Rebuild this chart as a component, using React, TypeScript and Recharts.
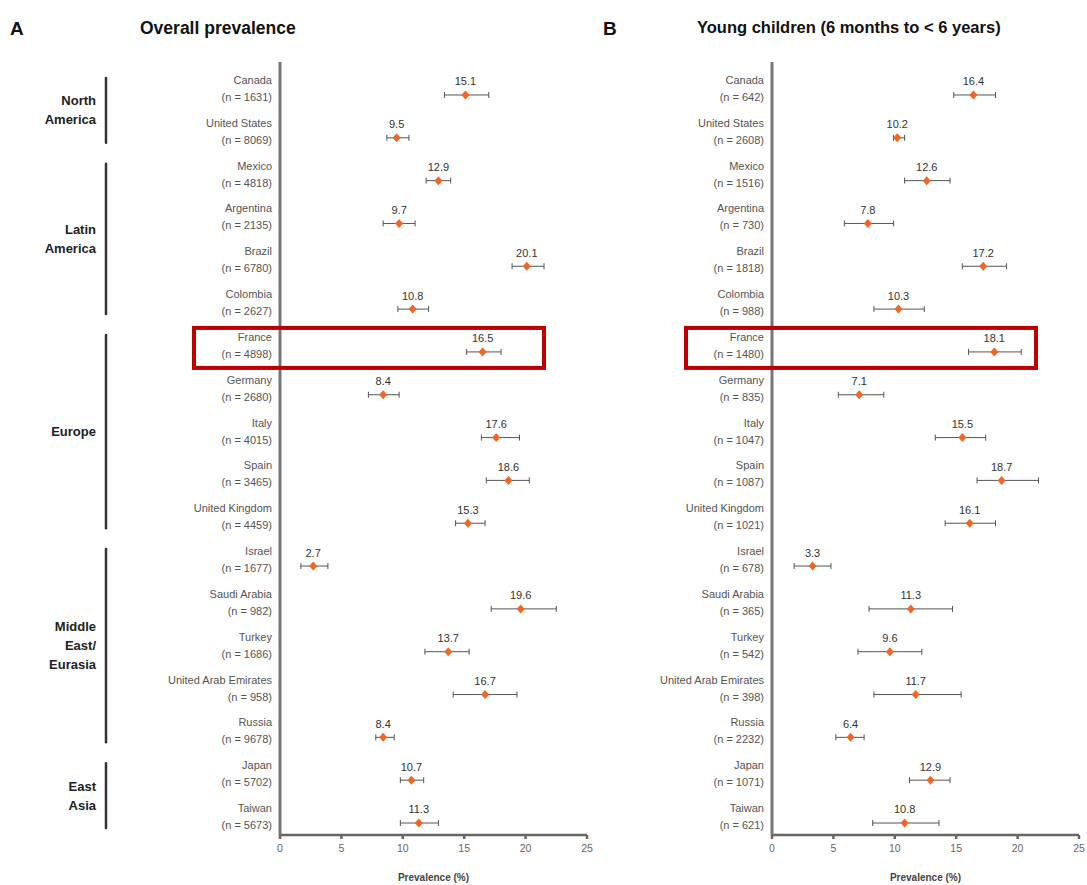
import React from 'react';
import {
  ScatterChart,
  Scatter,
  XAxis,
  YAxis,
  ErrorBar,
  LabelList,
} from 'recharts';

// rows, top to bottom
const countries = [
  'Canada', 'United States', 'Mexico', 'Argentina', 'Brazil', 'Colombia',
  'France', 'Germany', 'Italy', 'Spain', 'United Kingdom', 'Israel',
  'Saudi Arabia', 'Turkey', 'United Arab Emirates', 'Russia', 'Japan', 'Taiwan',
];

const regions = [
  { lines: ['North', 'America'], from: 0, to: 1 },
  { lines: ['Latin', 'America'], from: 2, to: 5 },
  { lines: ['Europe'], from: 6, to: 10 },
  { lines: ['Middle', 'East/', 'Eurasia'], from: 11, to: 15 },
  { lines: ['East', 'Asia'], from: 16, to: 17 },
];

const highlightRow = 6; // France

// Panel A – overall prevalence
const overallN = [1631, 8069, 4818, 2135, 6780, 2627, 4898, 2680, 4015, 3465, 4459, 1677, 982, 1686, 958, 9678, 5702, 5673];
const overallValue = [15.1, 9.5, 12.9, 9.7, 20.1, 10.8, 16.5, 8.4, 17.6, 18.6, 15.3, 2.7, 19.6, 13.7, 16.7, 8.4, 10.7, 11.3];
const overallLow = [13.4, 8.7, 11.9, 8.4, 18.9, 9.6, 15.2, 7.2, 16.4, 16.8, 14.3, 1.7, 17.2, 11.8, 14.1, 7.8, 9.8, 9.8];
const overallHigh = [17.0, 10.5, 13.9, 11.0, 21.5, 12.1, 18.0, 9.7, 19.5, 20.3, 16.7, 3.9, 22.5, 15.4, 19.3, 9.3, 11.7, 12.9];

// Panel B – young children
const childN = [642, 2608, 1516, 730, 1818, 988, 1480, 835, 1047, 1087, 1021, 678, 365, 542, 398, 2232, 1071, 621];
const childValue = [16.4, 10.2, 12.6, 7.8, 17.2, 10.3, 18.1, 7.1, 15.5, 18.7, 16.1, 3.3, 11.3, 9.6, 11.7, 6.4, 12.9, 10.8];
const childLow = [14.8, 9.9, 10.8, 5.9, 15.5, 8.3, 16.0, 5.4, 13.3, 16.7, 14.1, 1.8, 7.9, 7.0, 8.3, 5.2, 11.2, 8.2];
const childHigh = [18.2, 10.8, 14.5, 9.9, 19.1, 12.4, 20.3, 9.1, 17.4, 21.7, 18.2, 4.8, 14.7, 12.2, 15.4, 7.5, 14.5, 13.6];

const xTicks = [0, 5, 10, 15, 20, 25];

const FONT = '"Liberation Sans", Arial, Helvetica, sans-serif';
const CHART_H = 885;
const MARGIN_TOP = 62;
const X_AXIS_H = 50;
const Y_MIN = -0.77;
const Y_MAX = 17.28;
const ROW_STEP = (CHART_H - MARGIN_TOP - X_AXIS_H) / (Y_MAX - Y_MIN);

const buildRows = (values: number[], lows: number[], highs: number[], ns: number[]) =>
  countries.map((name, i) => ({
    idx: i,
    name,
    n: ns[i],
    value: values[i],
    err: [values[i] - lows[i], highs[i] - values[i]],
  }));

// small orange diamond marker
const Marker = ({ cx, cy }: any) => (
  <path
    d={`M${cx},${cy - 4.5} L${cx + 4},${cy} L${cx},${cy + 4.5} L${cx - 4},${cy} Z`}
    fill="#f26522"
  />
);

const CountryTick = ({ x, y, payload, ns, showRegions }: any) => {
  const i = payload.value as number;
  const c = y - 6;
  const region = showRegions ? regions.find(r => r.from === i) : null;
  return (
    <g>
      <text x={x} y={y - 11} textAnchor="end" fontSize={11} fill="#555" fontFamily={FONT}>
        {countries[i]}
      </text>
      <text x={x} y={y + 6} textAnchor="end" fontSize={11} fill="#555" fontFamily={FONT}>
        {`(n = ${ns[i]})`}
      </text>
      {i === highlightRow && (
        <rect x={x - 78} y={y - 24} width={350} height={40} fill="none" stroke="#c00000" strokeWidth={4} />
      )}
      {region && (() => {
        const span = (region.to - region.from) * ROW_STEP;
        const mid = c + span / 2;
        const lh = 19;
        const top = mid - ((region.lines.length - 1) * lh) / 2;
        return (
          <g>
            <line
              x1={x - 166}
              x2={x - 166}
              y1={c - 11}
              y2={c + span + 11}
              stroke="#333"
              strokeWidth={2.5}
              strokeLinecap="round"
            />
            {region.lines.map((ln, k) => (
              <text
                key={k}
                x={x - 176}
                y={top + k * lh + 4.5}
                textAnchor="end"
                fontSize={13}
                fontWeight="bold"
                fill="#222"
                fontFamily={FONT}
              >
                {ln}
              </text>
            ))}
          </g>
        );
      })()}
    </g>
  );
};

interface PanelProps {
  rows: any[];
  ns: number[];
  showRegions: boolean;
  left: number;
  yAxisWidth: number;
  width: number;
}

const Panel: React.FC<PanelProps> = ({ rows, ns, showRegions, left, yAxisWidth, width }) => (
  <div style={{ position: 'absolute', left, top: 0 }}>
    <ScatterChart
      width={width}
      height={CHART_H}
      margin={{ top: MARGIN_TOP, right: width - yAxisWidth - 307, left: 0, bottom: 0 }}
    >
      <XAxis
        type="number"
        dataKey="value"
        domain={[0, 25]}
        ticks={xTicks}
        allowDataOverflow
        height={X_AXIS_H}
        stroke="#666"
        strokeWidth={2.5}
        tickSize={4}
        tickMargin={6}
        tick={{ fontSize: 10.5, fill: '#666', fontFamily: FONT }}
        label={{
          value: 'Prevalence (%)',
          position: 'insideBottom',
          offset: 4,
          fontSize: 10,
          fontWeight: 'bold',
          fill: '#444',
          fontFamily: FONT,
        }}
      />
      <YAxis
        type="number"
        dataKey="idx"
        reversed
        domain={[Y_MIN, Y_MAX]}
        allowDataOverflow
        ticks={countries.map((_, i) => i)}
        interval={0}
        width={yAxisWidth}
        stroke="#777"
        strokeWidth={3}
        tickLine={false}
        tick={<CountryTick ns={ns} showRegions={showRegions} />}
      />
      <Scatter data={rows} fill="#f26522" shape={<Marker />} isAnimationActive={false}>
        <ErrorBar dataKey="err" direction="x" width={3} stroke="#555" strokeWidth={1} isAnimationActive={false} />
        <LabelList
          dataKey="value"
          position="top"
          offset={5}
          formatter={(v: any) => Number(v).toFixed(1)}
          style={{ fontSize: 11, fill: '#333', fontFamily: FONT }}
        />
      </Scatter>
    </ScatterChart>
  </div>
);

const titleStyle: React.CSSProperties = {
  position: 'absolute',
  top: 18,
  fontFamily: FONT,
  fontWeight: 'bold',
  color: '#111',
  whiteSpace: 'nowrap',
};

const App: React.FC = () => {
  const overallRows = buildRows(overallValue, overallLow, overallHigh, overallN);
  const childRows = buildRows(childValue, childLow, childHigh, childN);
  return (
    <div style={{ position: 'absolute', left: 0, top: 0, width: 1087, height: 885, background: '#fff', overflow: 'hidden' }}>
      <div style={{ ...titleStyle, left: 10, fontSize: 19 }}>A</div>
      <div style={{ ...titleStyle, left: 140, fontSize: 17.5 }}>Overall prevalence</div>
      <div style={{ ...titleStyle, left: 603, fontSize: 19 }}>B</div>
      <div style={{ ...titleStyle, left: 697, fontSize: 16.5 }}>Young children (6 months to &lt; 6 years)</div>
      <Panel rows={overallRows} ns={overallN} showRegions left={0} yAxisWidth={280} width={600} />
      <Panel rows={childRows} ns={childN} showRegions={false} left={487} yAxisWidth={285} width={600} />
    </div>
  );
};

export default App;
